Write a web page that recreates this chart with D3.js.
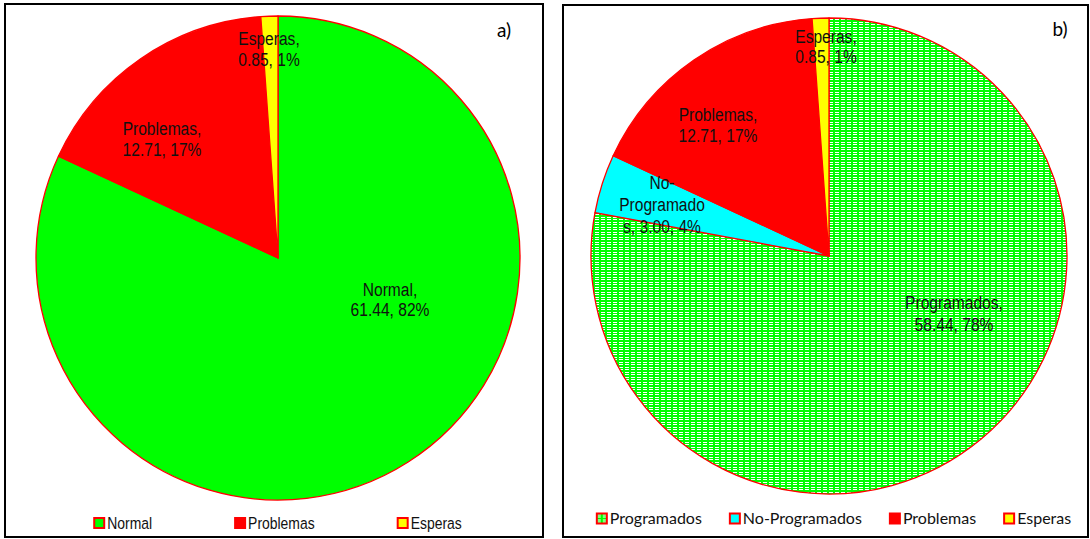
<!DOCTYPE html>
<html><head><meta charset="utf-8">
<script src="https://cdn.jsdelivr.net/npm/d3@7"></script>
<style>
body{margin:0;background:#fff}
svg{display:block}
.narrow{font-family:"Liberation Sans",Arial,sans-serif;}
.cal{font-family:Lato,"Open Sans",sans-serif;}
</style>
</head><body>
<svg id="c" width="1090" height="539"></svg>
<script>
// ---- data ----
const categoriesA = ["Normal", "Problemas", "Esperas"];
const valuesA = [61.44, 12.71, 0.85];
const categoriesB = ["Programados", "No-Programados", "Problemas", "Esperas"];
const valuesB = [58.44, 3.00, 12.71, 0.85];
const panelTags = ["a)", "b)"];

// ---- styles / layout ----
const NARROW = 0.82; // Arial Narrow approximation
const colorOf = {
  "Normal": "#00ff00", "Programados": "url(#dots)", "No-Programados": "#00ffff",
  "Problemas": "#ff0000", "Esperas": "#ffff00"
};
const panels = [
  { cats: categoriesA, vals: valuesA, tag: panelTags[0],
    box: [5, 4, 538, 533], cx: 278, cy: 258, r: 242,
    tagPos: [504, 37],
    labels: [ {dx: 112, dy: 38, lh: 20}, {dx: -116, dy: -123, lh: 21}, {dx: -9, dy: -213, lh: 21} ],
    legend: { y: 523, gap: 83, font: "narrow", size: 17 } },
  { cats: categoriesB, vals: valuesB, tag: panelTags[1],
    box: [563, 5, 525, 532], cx: 829, cy: 256, r: 238,
    tagPos: [1060, 36],
    labels: [ {dx: 125, dy: 53, lh: 22}, {dx: -167, dy: -67, lh: 22, breaks: [3, 13]}, {dx: -111, dy: -135, lh: 21}, {dx: -3, dy: -213, lh: 20} ],
    legend: { y: 518.5, gap: 28, font: "cal", size: 16 } }
];

const svg = d3.select("#c");
const defs = svg.append("defs");
const pat = defs.append("pattern").attr("id", "dots").attr("patternUnits", "userSpaceOnUse")
  .attr("width", 6).attr("height", 5);
pat.append("rect").attr("width", 6).attr("height", 5).attr("fill", "#00ff00");
pat.append("rect").attr("x", 0).attr("y", 1).attr("width", 4).attr("height", 1).attr("fill", "#ffffff");
pat.append("rect").attr("x", 0).attr("y", 3).attr("width", 4).attr("height", 1).attr("fill", "#ffffff");

const pctFmt = d3.format(".0%");

panels.forEach((p, pi) => {
  const g = svg.append("g");
  g.append("rect").attr("x", p.box[0]).attr("y", p.box[1]).attr("width", p.box[2]).attr("height", p.box[3])
    .attr("fill", "#fff").attr("stroke", "#000").attr("stroke-width", 2);

  const data = p.cats.map((c, i) => ({ cat: c, val: p.vals[i] }));
  const total = d3.sum(p.vals);
  const pie = d3.pie().value(d => d.val).sort(null);
  const arc = d3.arc().innerRadius(0).outerRadius(p.r);
  const arcs = pie(data);
  const pg = g.append("g").attr("transform", `translate(${p.cx},${p.cy})`);
  pg.selectAll("path").data(arcs).join("path")
    .attr("d", arc)
    .attr("fill", d => colorOf[d.data.cat])
    .attr("stroke", "#ff0000").attr("stroke-width", 1.3).attr("stroke-linejoin", "round");

  // data labels
  arcs.forEach((a, i) => {
    const L = p.labels[i];
    const full = `${a.data.cat}, ${a.data.val.toFixed(2)}, ${pctFmt(a.data.val / total)}`;
    let lines;
    if (L.breaks) {
      lines = [];
      let s = 0;
      L.breaks.forEach(b => { lines.push(full.slice(s, b)); s = b; });
      lines.push(full.slice(s));
    } else {
      const k = full.indexOf(",") + 1;
      lines = [full.slice(0, k), full.slice(k + 1)];
    }
    const t = pg.append("text").attr("class", "narrow").attr("text-anchor", "middle")
      .attr("font-size", 19).attr("fill", "#111")
      .attr("transform", `translate(${L.dx},${L.dy}) scale(${NARROW},1)`);
    lines.forEach((ln, j) => t.append("tspan").attr("x", 0).attr("y", j * L.lh).text(ln));
  });

  // tag
  g.append("text").attr("class", "cal").attr("x", p.tagPos[0]).attr("y", p.tagPos[1])
    .attr("text-anchor", "middle").attr("font-size", 19).attr("fill", "#000").text(p.tag);

  // legend
  const lg = g.append("g");
  const sx = p.legend.font === "narrow" ? NARROW : 1;
  const items = p.cats.map(c => {
    const it = lg.append("g");
    it.append("rect").attr("x", 0).attr("y", -5).attr("width", 10).attr("height", 10)
      .attr("fill", colorOf[c]).attr("stroke", "#ff0000").attr("stroke-width", 2);
    const tx = it.append("text").attr("class", p.legend.font)
      .attr("transform", `translate(13,0) scale(${sx},1)`)
      .attr("dy", "0.36em").attr("font-size", p.legend.size).attr("fill", "#111").text(c);
    const w = 13 + tx.node().getComputedTextLength() * sx;
    return { it, w };
  });
  const totalW = d3.sum(items, d => d.w) + p.legend.gap * (items.length - 1);
  let x = p.cx - totalW / 2 + (pi === 0 ? 0 : 5);
  items.forEach(d => { d.it.attr("transform", `translate(${x},${p.legend.y})`); x += d.w + p.legend.gap; });
});
</script>
</body></html>
